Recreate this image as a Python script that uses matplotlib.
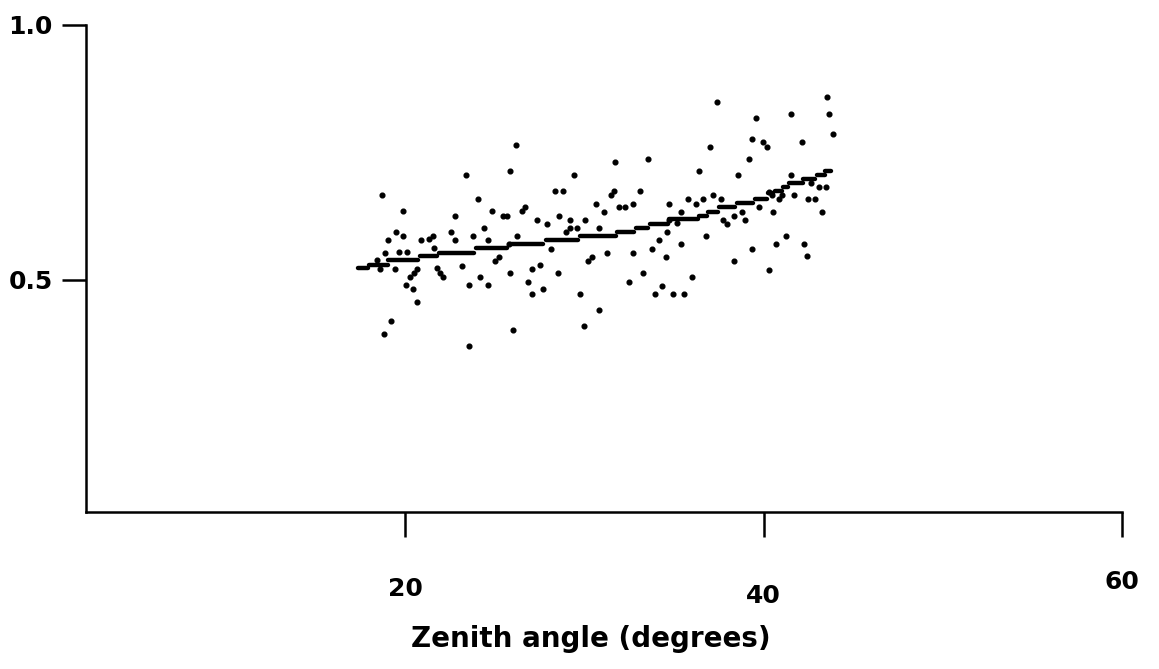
import matplotlib
matplotlib.use("Agg")
import matplotlib.pyplot as plt

# running level: each step is a short horizontal bar (start angle, end angle, value)
step_start = [17.35, 17.96, 19.02, 20.81, 21.87, 23.93, 25.83, 27.84, 29.73, 31.80,
              32.86, 33.64, 34.70, 36.37, 36.88, 37.49, 38.49, 39.50, 40.22, 40.61,
              41.06, 41.39, 42.18, 42.96, 43.40]
step_end = [17.91, 19.02, 20.70, 21.76, 23.82, 25.66, 27.67, 29.62, 31.74, 32.75,
            33.53, 34.64, 36.32, 36.82, 37.43, 38.38, 39.39, 40.17, 40.50, 41.00,
            41.34, 42.18, 42.85, 43.40, 43.74]
step_level = [0.524, 0.529, 0.539, 0.547, 0.553, 0.563, 0.571, 0.578, 0.586, 0.594,
              0.602, 0.610, 0.620, 0.625, 0.633, 0.643, 0.651, 0.659, 0.671, 0.675,
              0.682, 0.690, 0.698, 0.706, 0.714]

# individual measurements
angle = [37.38, 43.51, 43.63, 43.85, 41.51, 39.55, 36.99, 39.33, 39.94, 40.17,
         42.12, 39.16, 36.37, 38.55, 41.51, 33.53, 31.68, 29.40, 26.16, 25.83,
         23.37, 28.34, 28.79, 31.46, 31.63, 33.08, 18.69, 24.04, 30.63, 32.69,
         34.70, 26.67, 26.50, 31.07, 31.91, 32.25, 19.86, 24.83, 25.44, 25.66,
         22.76, 27.34, 28.56, 29.18, 30.01, 34.70, 27.89, 29.18, 29.57, 30.79,
         28.95, 34.59, 24.38, 19.47, 22.54, 19.86, 23.77, 26.22, 21.53, 21.31,
         19.02, 20.86, 22.76, 24.60, 34.14, 25.77, 21.59, 28.12, 33.75, 18.86,
         19.64, 20.08, 32.69, 31.24, 25.22, 34.53, 30.40, 24.99, 30.18, 18.41,
         27.50, 23.15, 27.06, 18.58, 19.41, 20.64, 20.47, 20.25, 21.76, 21.92,
         22.09, 24.16, 25.83, 28.51, 33.25, 20.03, 20.42, 23.54, 24.60, 26.83,
         27.67, 34.31, 32.47, 27.06, 29.73, 33.92, 20.64, 30.79, 19.19, 18.80,
         23.54, 26.00, 29.96, 35.76, 36.21, 36.60, 37.15, 37.60, 40.28, 40.45,
         40.84, 41.00, 41.67, 42.45, 42.85, 43.07, 43.46, 42.62, 35.37, 39.72,
         40.50, 43.24, 38.77, 38.33, 38.94, 37.71, 37.94, 35.15, 36.76, 41.23,
         35.37, 40.67, 42.23, 39.33, 42.40, 38.33, 40.28, 35.98, 34.92, 35.54]
ratio = [0.849, 0.859, 0.825, 0.786, 0.825, 0.818, 0.761, 0.776, 0.771, 0.761,
         0.771, 0.737, 0.714, 0.706, 0.706, 0.737, 0.731, 0.706, 0.765, 0.714,
         0.706, 0.675, 0.675, 0.667, 0.675, 0.675, 0.667, 0.659, 0.649, 0.649,
         0.649, 0.643, 0.635, 0.633, 0.643, 0.643, 0.635, 0.635, 0.625, 0.625,
         0.625, 0.618, 0.625, 0.618, 0.618, 0.618, 0.610, 0.602, 0.602, 0.602,
         0.594, 0.594, 0.602, 0.594, 0.594, 0.586, 0.586, 0.586, 0.586, 0.580,
         0.578, 0.578, 0.578, 0.578, 0.578, 0.571, 0.563, 0.561, 0.561, 0.553,
         0.555, 0.555, 0.553, 0.553, 0.545, 0.545, 0.545, 0.537, 0.537, 0.539,
         0.529, 0.527, 0.522, 0.522, 0.522, 0.522, 0.514, 0.506, 0.524, 0.514,
         0.506, 0.506, 0.514, 0.514, 0.514, 0.490, 0.482, 0.490, 0.490, 0.496,
         0.482, 0.488, 0.496, 0.4725, 0.4725, 0.4725, 0.457, 0.441, 0.420, 0.394,
         0.371, 0.402, 0.410, 0.659, 0.649, 0.659, 0.667, 0.659, 0.673, 0.667,
         0.659, 0.667, 0.667, 0.659, 0.659, 0.682, 0.682, 0.690, 0.633, 0.643,
         0.633, 0.633, 0.633, 0.625, 0.618, 0.618, 0.610, 0.612, 0.586, 0.586,
         0.571, 0.571, 0.571, 0.561, 0.547, 0.537, 0.520, 0.506, 0.4725, 0.4725]

x_ticks = [20, 40, 60]
y_ticks = [0.5, 1.0]
y_tick_labels = ["0.5", "1.0"]

plt.rcParams["font.family"] = ["DejaVu Sans"]

fig = plt.figure(figsize=(11.59, 6.69), dpi=100)
ax = fig.add_axes([0.0742, 0.2347, 0.8939, 0.728])

ax.hlines(step_level, step_start, step_end, colors="black", linewidth=3.2,
          capstyle="round")
ax.plot(angle, ratio, linestyle="none", marker="o", markersize=3.4,
        color="black")

ax.set_xlim(2.18, 60)
ax.set_ylim(0.045, 1.0)

for side in ("top", "right"):
    ax.spines[side].set_visible(False)
for side in ("left", "bottom"):
    ax.spines[side].set_linewidth(1.8)

ax.set_xticks(x_ticks)
ax.set_yticks(y_ticks)
ax.set_yticklabels(y_tick_labels)
ax.tick_params(axis="both", direction="out", width=1.8, labelsize=18)
ax.tick_params(axis="x", length=18)
ax.tick_params(axis="y", length=17, pad=7)
for lbl in ax.get_xticklabels() + ax.get_yticklabels():
    lbl.set_fontweight("bold")

# the printed labels sit at slightly different heights
for tick, pad in zip(ax.xaxis.get_major_ticks(), [29, 34, 24]):
    tick.set_pad(pad)

ax.set_xlabel("Zenith angle (degrees)", fontsize=20, fontweight="bold")
ax.xaxis.set_label_coords(0.487, -0.232)

fig.savefig("out.png", dpi=100)
